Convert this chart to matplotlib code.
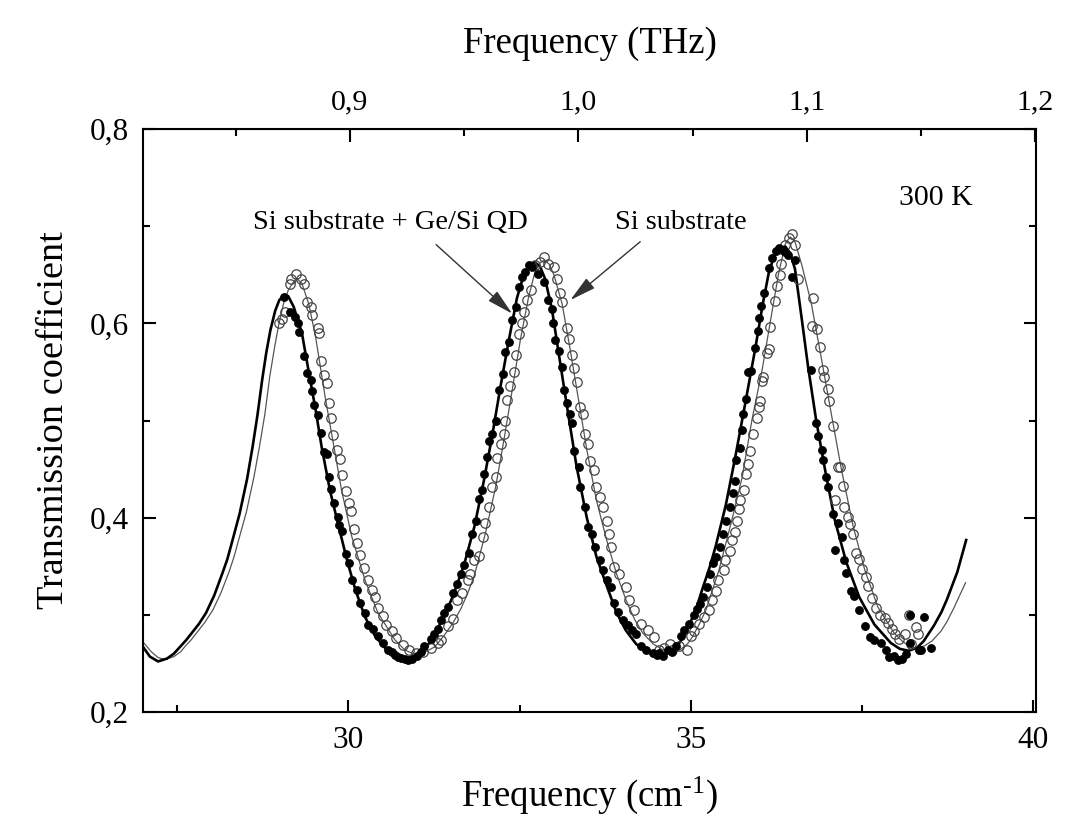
import matplotlib
matplotlib.use("Agg")
import matplotlib.pyplot as plt
from matplotlib.ticker import MultipleLocator, FixedLocator, FuncFormatter

plt.rcParams['font.family'] = ['Liberation Serif', 'DejaVu Serif']
plt.rcParams['mathtext.fontset'] = 'custom'
plt.rcParams['mathtext.rm'] = 'Liberation Serif'
plt.rcParams['mathtext.it'] = 'Liberation Serif:italic'

# fit curves (cm^-1, transmission)
fit_qd_x = [27.00, 27.10, 27.22, 27.35, 27.45, 27.54, 27.63, 27.72, 27.82, 27.92, 28.04, 28.16,
            28.23, 28.30, 28.41, 28.52, 28.60,
            28.67, 28.74, 28.80, 28.86, 28.93, 28.99, 29.06, 29.12, 29.20, 29.32, 29.40, 29.52,
            29.61, 29.73, 29.86, 29.98, 30.10, 30.24, 30.39, 30.58, 30.72, 30.87, 31.00, 31.11,
            31.20, 31.30, 31.40, 31.50, 31.59, 31.69, 31.84, 31.98, 32.10, 32.22, 32.34, 32.46,
            32.56, 32.64, 32.72, 32.80, 32.87, 32.97, 33.09, 33.21, 33.33, 33.48, 33.62, 33.77,
            33.91, 34.05, 34.20, 34.35, 34.50, 34.62, 34.78, 34.90, 34.98, 35.08, 35.17, 35.27,
            35.36, 35.51, 35.65, 35.80, 35.94, 36.05, 36.14, 36.22, 36.30, 36.38, 36.45, 36.52,
            36.62, 36.71, 36.83, 36.96, 37.10, 37.27, 37.46, 37.68, 37.92, 38.05, 38.18, 38.30,
            38.40, 38.55, 38.66, 38.74, 38.89, 39.02]
fit_qd_y = [0.267, 0.257, 0.252, 0.255, 0.260, 0.267, 0.274, 0.282, 0.291, 0.302, 0.320, 0.343,
            0.357, 0.375, 0.404, 0.440, 0.473,
            0.505, 0.542, 0.570, 0.593, 0.613, 0.624, 0.629, 0.628, 0.617, 0.590, 0.558, 0.511,
            0.472, 0.428, 0.390, 0.356, 0.326, 0.298, 0.278, 0.262, 0.256, 0.253, 0.256, 0.264,
            0.273, 0.285, 0.300, 0.315, 0.332, 0.352, 0.391, 0.439, 0.485, 0.535, 0.582, 0.626,
            0.650, 0.660, 0.663, 0.658, 0.646, 0.615, 0.560, 0.506, 0.453, 0.400, 0.360, 0.330,
            0.303, 0.284, 0.270, 0.262, 0.258, 0.259, 0.266, 0.278, 0.290, 0.307, 0.327, 0.348,
            0.370, 0.413, 0.463, 0.520, 0.574, 0.620, 0.653, 0.670, 0.678, 0.679, 0.672, 0.656,
            0.604, 0.556, 0.500, 0.449, 0.398, 0.354, 0.318, 0.290, 0.271, 0.265, 0.263, 0.266,
            0.273, 0.289, 0.303, 0.316, 0.344, 0.377]

fit_si_x = [27.00, 27.12, 27.22, 27.32, 27.45, 27.55, 27.62, 27.70, 27.80, 27.90, 28.02, 28.14,
            28.26, 28.33, 28.40, 28.51, 28.62,
            28.70, 28.78, 28.85, 28.92, 28.98, 29.05, 29.12, 29.20, 29.25, 29.32, 29.42, 29.52,
            29.66, 29.78, 29.90, 30.05, 30.24, 30.43, 30.68, 30.82, 30.97, 31.10, 31.26, 31.40,
            31.52, 31.64, 31.74, 31.84, 32.00, 32.15, 32.27, 32.39, 32.51, 32.63, 32.72, 32.79,
            32.86, 32.93, 33.00, 33.12, 33.24, 33.36, 33.48, 33.62, 33.77, 33.91, 34.06, 34.18,
            34.30, 34.45, 34.59, 34.72, 34.84, 34.95, 35.02, 35.12, 35.22, 35.41, 35.60, 35.75,
            35.89, 36.04, 36.18, 36.28, 36.38, 36.45, 36.52, 36.62, 36.76, 36.91, 37.05, 37.20,
            37.37, 37.54, 37.73, 37.97, 38.10, 38.21, 38.31, 38.41, 38.52, 38.65, 38.74, 38.84,
            39.01]
fit_si_y = [0.272, 0.262, 0.256, 0.254, 0.257, 0.262, 0.268, 0.274, 0.283, 0.292, 0.305, 0.323,
            0.345, 0.360, 0.378, 0.406, 0.442,
            0.473, 0.507, 0.545, 0.575, 0.598, 0.620, 0.634, 0.643, 0.646, 0.641, 0.620, 0.586,
            0.524, 0.476, 0.428, 0.380, 0.336, 0.302, 0.274, 0.264, 0.259, 0.261, 0.267, 0.279,
            0.291, 0.306, 0.322, 0.341, 0.384, 0.432, 0.480, 0.531, 0.583, 0.627, 0.652, 0.662,
            0.665, 0.661, 0.650, 0.620, 0.572, 0.521, 0.470, 0.418, 0.377, 0.343, 0.314, 0.295,
            0.281, 0.270, 0.264, 0.262, 0.264, 0.270, 0.277, 0.290, 0.305, 0.346, 0.398, 0.442,
            0.500, 0.552, 0.610, 0.651, 0.682, 0.689, 0.684, 0.660, 0.620, 0.562, 0.507, 0.449,
            0.391, 0.346, 0.308, 0.281, 0.272, 0.267, 0.266, 0.268, 0.273, 0.283, 0.293, 0.307,
            0.333]

# measured points, Si substrate + Ge/Si QD (filled)
qd_x = [29.06, 29.15, 29.22, 29.26, 29.28, 29.35, 29.40, 29.45, 29.47, 29.50, 29.55, 29.60,
        29.64, 29.69, 29.72, 29.74, 29.79, 29.84, 29.86, 29.91, 29.96, 30.01, 30.05, 30.13,
        30.17, 30.24, 30.29, 30.36, 30.43, 30.51, 30.58, 30.63, 30.68, 30.73, 30.77, 30.82,
        30.87, 30.93, 31.00, 31.06, 31.11, 31.20, 31.25, 31.30, 31.35, 31.40, 31.45, 31.52,
        31.59, 31.64, 31.69, 31.76, 31.81, 31.86, 31.91, 31.95, 31.98, 32.03, 32.05, 32.10,
        32.15, 32.20, 32.25, 32.29, 32.34, 32.39, 32.44, 32.49, 32.53, 32.58, 32.63, 32.68,
        32.77, 32.85, 32.92, 32.97, 32.99, 33.02, 33.07, 33.12, 33.14, 33.19, 33.24, 33.26,
        33.29, 33.36, 33.38, 33.46, 33.50, 33.55, 33.60, 33.67, 33.72, 33.77, 33.84, 33.88,
        33.93, 34.01, 34.08, 34.14, 34.20, 34.27, 34.35, 34.44, 34.50, 34.54, 34.60, 34.66,
        34.72, 34.78, 34.85, 34.90, 34.97, 35.04, 35.09, 35.14, 35.18, 35.23, 35.28, 35.33,
        35.37, 35.42, 35.47, 35.52, 35.57, 35.61, 35.64, 35.66, 35.71, 35.74, 35.76, 35.81,
        35.83, 35.88, 35.93, 35.98, 36.00, 36.02, 36.07, 36.14, 36.19, 36.24, 36.29, 36.33,
        36.38, 36.42, 36.47, 36.52, 36.76, 36.83, 36.85, 36.91, 36.93, 36.98, 37.00, 37.08,
        37.10, 37.15, 37.20, 37.23, 37.27, 37.34, 37.38, 37.46, 37.54, 37.62, 37.68, 37.78,
        37.85, 37.90, 37.96, 38.03, 38.09, 38.14, 38.20, 38.20, 38.33, 38.36, 38.40, 38.50]
qd_y = [0.627, 0.612, 0.607, 0.600, 0.591, 0.566, 0.549, 0.542, 0.530, 0.516, 0.506, 0.487,
        0.468, 0.466, 0.442, 0.430, 0.415, 0.401, 0.392, 0.386, 0.363, 0.353, 0.336, 0.326,
        0.312, 0.302, 0.290, 0.285, 0.278, 0.271, 0.264, 0.262, 0.259, 0.257, 0.256, 0.255,
        0.254, 0.255, 0.258, 0.262, 0.268, 0.275, 0.280, 0.285, 0.295, 0.302, 0.308, 0.322,
        0.332, 0.342, 0.351, 0.364, 0.383, 0.397, 0.419, 0.428, 0.445, 0.462, 0.479, 0.486,
        0.500, 0.531, 0.548, 0.570, 0.581, 0.603, 0.617, 0.637, 0.648, 0.653, 0.660, 0.658,
        0.651, 0.643, 0.624, 0.615, 0.600, 0.583, 0.572, 0.555, 0.531, 0.518, 0.507, 0.497,
        0.469, 0.452, 0.432, 0.411, 0.390, 0.383, 0.370, 0.356, 0.346, 0.336, 0.329, 0.312,
        0.303, 0.295, 0.290, 0.284, 0.280, 0.268, 0.264, 0.261, 0.259, 0.261, 0.258, 0.264,
        0.262, 0.268, 0.278, 0.284, 0.291, 0.300, 0.306, 0.311, 0.318, 0.329, 0.342, 0.353,
        0.359, 0.370, 0.383, 0.397, 0.411, 0.425, 0.438, 0.459, 0.472, 0.490, 0.507, 0.522,
        0.550, 0.551, 0.575, 0.592, 0.606, 0.618, 0.631, 0.657, 0.667, 0.674, 0.678, 0.675,
        0.673, 0.670, 0.648, 0.665, 0.552, 0.497, 0.484, 0.470, 0.459, 0.442, 0.432, 0.404,
        0.367, 0.394, 0.380, 0.356, 0.343, 0.325, 0.319, 0.305, 0.288, 0.277, 0.274, 0.271,
        0.264, 0.257, 0.258, 0.253, 0.255, 0.260, 0.271, 0.300, 0.264, 0.264, 0.298, 0.266]

# measured points, Si substrate (open)
si_x = [28.99, 29.03, 29.07, 29.14, 29.16, 29.23, 29.30, 29.35, 29.40, 29.45, 29.47, 29.55,
        29.57, 29.60, 29.64, 29.69, 29.71, 29.74, 29.78, 29.83, 29.88, 29.91, 29.96, 30.01,
        30.03, 30.08, 30.13, 30.17, 30.22, 30.29, 30.34, 30.39, 30.43, 30.51, 30.55, 30.63,
        30.70, 30.80, 30.89, 30.99, 31.09, 31.21, 31.30, 31.35, 31.45, 31.52, 31.59, 31.66,
        31.74, 31.78, 31.84, 31.91, 31.96, 32.00, 32.05, 32.10, 32.15, 32.17, 32.22, 32.27,
        32.29, 32.32, 32.36, 32.41, 32.44, 32.49, 32.53, 32.56, 32.61, 32.66, 32.73, 32.80,
        32.85, 32.92, 33.00, 33.04, 33.09, 33.12, 33.19, 33.22, 33.26, 33.29, 33.33, 33.38,
        33.43, 33.46, 33.50, 33.53, 33.58, 33.62, 33.67, 33.72, 33.77, 33.80, 33.84, 33.88,
        33.95, 34.05, 34.10, 34.17, 34.27, 34.37, 34.46, 34.54, 34.61, 34.69, 34.73, 34.83,
        34.95, 35.00, 35.04, 35.12, 35.19, 35.26, 35.31, 35.36, 35.40, 35.48, 35.50, 35.57,
        35.60, 35.65, 35.67, 35.70, 35.72, 35.77, 35.80, 35.84, 35.87, 35.91, 35.96, 35.99,
        36.01, 36.04, 36.06, 36.11, 36.14, 36.16, 36.23, 36.26, 36.30, 36.32, 36.37, 36.43,
        36.47, 36.52, 36.57, 36.78, 36.77, 36.84, 36.88, 36.93, 36.95, 37.00, 37.02, 37.07,
        37.15, 37.18, 37.22, 37.11, 37.24, 37.29, 37.33, 37.36, 37.41, 37.45, 37.50, 37.55,
        37.59, 37.64, 37.71, 37.76, 37.83, 37.88, 37.93, 37.98, 38.04, 38.12, 38.19, 38.21,
        38.29, 38.31]
si_y = [0.600, 0.604, 0.612, 0.641, 0.646, 0.651, 0.646, 0.641, 0.622, 0.617, 0.609, 0.595,
        0.590, 0.561, 0.547, 0.539, 0.518, 0.503, 0.485, 0.470, 0.460, 0.444, 0.427, 0.415,
        0.407, 0.388, 0.374, 0.362, 0.348, 0.336, 0.326, 0.318, 0.307, 0.299, 0.290, 0.283,
        0.276, 0.269, 0.264, 0.261, 0.262, 0.266, 0.271, 0.274, 0.288, 0.296, 0.315, 0.322,
        0.336, 0.342, 0.356, 0.361, 0.380, 0.394, 0.411, 0.432, 0.442, 0.461, 0.476, 0.486,
        0.500, 0.521, 0.536, 0.550, 0.567, 0.589, 0.600, 0.612, 0.624, 0.634, 0.660, 0.663,
        0.668, 0.661, 0.658, 0.646, 0.631, 0.622, 0.595, 0.584, 0.567, 0.554, 0.540, 0.514,
        0.507, 0.486, 0.476, 0.458, 0.449, 0.432, 0.421, 0.411, 0.397, 0.383, 0.370, 0.349,
        0.342, 0.329, 0.315, 0.305, 0.291, 0.284, 0.277, 0.264, 0.266, 0.270, 0.264, 0.268,
        0.264, 0.278, 0.283, 0.291, 0.298, 0.305, 0.315, 0.325, 0.336, 0.346, 0.356, 0.366,
        0.377, 0.385, 0.397, 0.409, 0.418, 0.428, 0.445, 0.455, 0.469, 0.486, 0.503, 0.514,
        0.520, 0.541, 0.545, 0.569, 0.574, 0.596, 0.623, 0.638, 0.650, 0.661, 0.681, 0.688,
        0.692, 0.681, 0.646, 0.626, 0.597, 0.594, 0.576, 0.552, 0.545, 0.532, 0.520, 0.494,
        0.452, 0.452, 0.433, 0.418, 0.411, 0.401, 0.393, 0.383, 0.364, 0.357, 0.347, 0.339,
        0.330, 0.317, 0.307, 0.300, 0.297, 0.292, 0.285, 0.280, 0.275, 0.280, 0.300, 0.270,
        0.287, 0.280]

thz_major = [0.9, 1.0, 1.1, 1.2]
thz_minor = [0.85, 0.95, 1.05, 1.15]
CM_PER_THZ = 33.356

fig = plt.figure(figsize=(10.65, 8.25), dpi=100)
ax = fig.add_axes([0.1343, 0.137, 0.8385, 0.7066])

ax.plot(fit_si_x, fit_si_y, color='#555555', lw=0.9, zorder=2)
ax.plot(fit_qd_x, fit_qd_y, color='black', lw=1.9, zorder=3)
ax.plot(si_x, si_y, 'o', ms=6.8, mfc='none', mec='#444444', mew=0.9, zorder=4)
ax.plot(qd_x, qd_y, 'o', ms=5.8, mfc='black', mec='black', mew=0.5, zorder=5)

ax.set_xlim(27.0, 40.04)
ax.set_ylim(0.2, 0.8)

comma = FuncFormatter(lambda v, p: f"{v:.1f}".replace('.', ','))
ax.xaxis.set_major_locator(MultipleLocator(5))
ax.xaxis.set_minor_locator(MultipleLocator(2.5))
ax.yaxis.set_major_locator(MultipleLocator(0.2))
ax.yaxis.set_minor_locator(MultipleLocator(0.1))
ax.yaxis.set_major_formatter(comma)
ax.tick_params(which='both', direction='in', width=1.5, labelsize=22.5, right=True, top=False)
ax.tick_params(which='major', length=9, pad=10)
ax.tick_params(which='minor', length=5)
for s in ax.spines.values():
    s.set_linewidth(1.5)

top = ax.secondary_xaxis('top', functions=(lambda x: x / CM_PER_THZ, lambda t: t * CM_PER_THZ))
top.xaxis.set_major_locator(FixedLocator(thz_major))
top.xaxis.set_minor_locator(FixedLocator(thz_minor))
top.xaxis.set_major_formatter(comma)
top.tick_params(which='both', direction='in', width=1.5, labelsize=21.5)
top.tick_params(which='major', length=9, pad=10)
top.tick_params(which='minor', length=5)
top.set_xlabel('Frequency (THz)', fontsize=26.5, labelpad=26)

ax.set_xlabel(r'Frequency (cm$^{\text{-}1}$)', fontsize=26.5, labelpad=14)
ax.set_ylabel('Transmission coefficient', fontsize=27.5, labelpad=14)

ax.text(38.58, 0.729, '300 K', fontsize=21.5, ha='center', va='center')
ax.text(30.61, 0.704, 'Si substrate + Ge/Si QD', fontsize=20.5, ha='center', va='center')
ax.text(34.86, 0.704, 'Si substrate', fontsize=20.5, ha='center', va='center')

arrow = dict(arrowstyle='-|>,head_length=0.9,head_width=0.22', color='#333333', lw=1.0,
             shrinkA=0, shrinkB=0, mutation_scale=18)
ax.annotate('', xy=(32.39, 0.610), xytext=(31.28, 0.681), arrowprops=arrow, zorder=6)
ax.annotate('', xy=(33.24, 0.624), xytext=(34.26, 0.684), arrowprops=arrow, zorder=6)

fig.savefig('out.png', dpi=100, facecolor='white')
